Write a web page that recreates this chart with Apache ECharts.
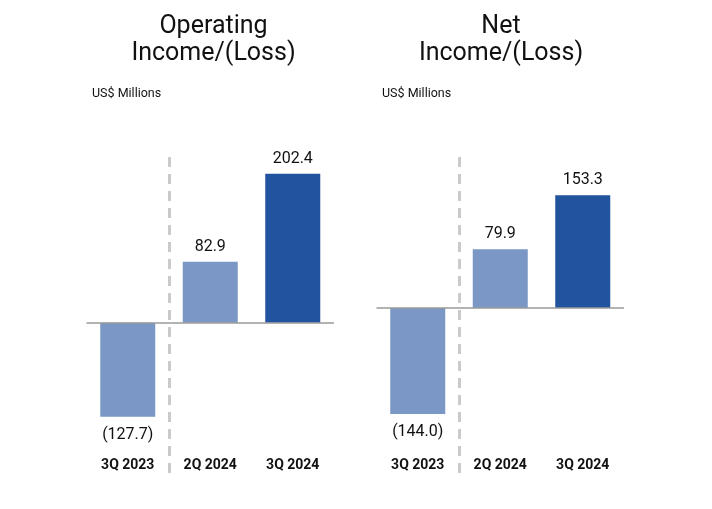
<!DOCTYPE html>
<html>
<head>
<meta charset="utf-8">
<script src="https://cdn.jsdelivr.net/npm/echarts@6/dist/echarts.min.js"></script>
<style>
html,body{margin:0;padding:0;background:#fff;}
#chart{width:712px;height:509px;}
</style>
</head>
<body>
<div id="chart"></div>
<script>
// ---- data ----
var categories = ['3Q 2023', '2Q 2024', '3Q 2024'];
var operatingIncome = [-127.7, 82.9, 202.4];
var netIncome = [-144.0, 79.9, 153.3];
var titles = ['Operating\nIncome/(Loss)', 'Net\nIncome/(Loss)'];
var unitLabel = 'US$ Millions';
var dividerAfter = 1; // divider sits after the first category

// ---- styles ----
var barColors = ['#7A97C6', '#7A97C6', '#22539F'];
var font = 'Roboto, "Noto Sans", sans-serif';

function fmt(v) {
  return v < 0 ? '(' + Math.abs(v).toFixed(1) + ')' : v.toFixed(1);
}

function makeSeries(values, idx) {
  return {
    type: 'bar',
    xAxisIndex: idx,
    yAxisIndex: idx,
    barWidth: 55,
    data: values.map(function (v, i) {
      return {
        value: v,
        itemStyle: { color: barColors[i] },
        label: { position: v < 0 ? 'bottom' : 'top', distance: v < 0 ? 10 : 7 }
      };
    }),
    label: {
      show: true,
      formatter: function (p) { return fmt(p.value); },
      fontFamily: font,
      fontSize: 16,
      color: '#111'
    },
    markLine: {
      silent: true,
      symbol: 'none',
      label: { show: false },
      lineStyle: { color: '#9A9A9A', width: 1.5, type: 'solid' },
      data: [{ yAxis: 0 }]
    }
  };
}

function makeDivider(idx) {
  return {
    type: 'line',
    xAxisIndex: idx + 2,
    yAxisIndex: idx,
    data: [],
    silent: true,
    markLine: {
      silent: true,
      symbol: 'none',
      label: { show: false },
      lineStyle: { color: '#CACACA', width: 3, type: [10, 7] },
      data: [{ xAxis: dividerAfter }]
    }
  };
}

var grids = [
  { left: 86.5, width: 247.5, top: 150, height: 323 },
  { left: 376.5, width: 247.5, top: 150, height: 323 }
];

function makeXAxis(idx) {
  return {
    type: 'category',
    gridIndex: idx,
    data: categories,
    axisLine: { show: false },
    axisTick: { show: false },
    splitLine: { show: false },
    axisLabel: {
      inside: true,
      margin: 1,
      fontFamily: font,
      fontWeight: 'bold',
      fontSize: 14,
      color: '#111'
    }
  };
}

function makeHelperXAxis(idx) {
  return {
    type: 'value',
    gridIndex: idx,
    min: 0,
    max: categories.length,
    show: false,
    splitLine: { show: false }
  };
}

function makeYAxis(idx, min, max) {
  return {
    type: 'value',
    gridIndex: idx,
    min: min,
    max: max,
    show: false,
    splitLine: { show: false }
  };
}

var titleStyle = { fontFamily: font, fontSize: 25, fontWeight: 'normal', color: '#111', lineHeight: 27 };
var unitStyle = { fontFamily: font, fontSize: 12.5, fontWeight: 'normal', color: '#111' };

var chart = echarts.init(document.getElementById('chart'));
chart.setOption({
  animation: false,
  backgroundColor: '#fff',
  title: [
    { text: titles[0], left: 208.5, top: 8, textAlign: 'center', textStyle: titleStyle },
    { text: titles[1], left: 496, top: 8, textAlign: 'center', textStyle: titleStyle },
    { text: unitLabel, left: 87, top: 82, textStyle: unitStyle },
    { text: unitLabel, left: 377, top: 82, textStyle: unitStyle }
  ],
  grid: grids,
  xAxis: [makeXAxis(0), makeXAxis(1), makeHelperXAxis(0), makeHelperXAxis(1)],
  yAxis: [makeYAxis(0, -204.2, 234.6), makeYAxis(1, -224.2, 214.7)],
  series: [
    makeDivider(0), makeDivider(1),
    makeSeries(operatingIncome, 0), makeSeries(netIncome, 1)
  ]
});
</script>
</body>
</html>
